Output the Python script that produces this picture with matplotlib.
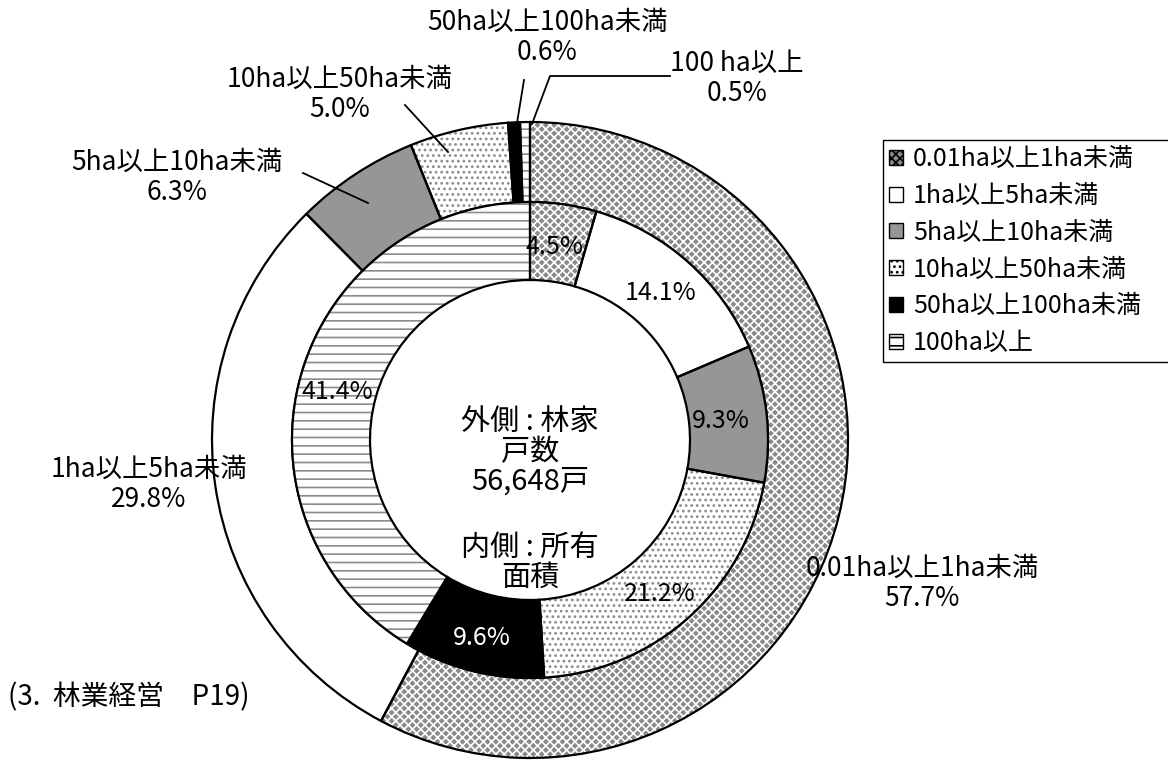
import matplotlib as mpl
mpl.use('Agg')
import matplotlib.pyplot as plt
from matplotlib.patches import Patch

plt.rcParams['font.family'] = ['Noto Sans CJK JP', 'DejaVu Sans']
plt.rcParams['hatch.linewidth'] = 1.2

# data
categories = ['0.01ha以上1ha未満', '1ha以上5ha未満', '5ha以上10ha未満',
              '10ha以上50ha未満', '50ha以上100ha未満', '100ha以上']
outer_share = [57.7, 29.8, 6.3, 5.0, 0.6, 0.5]   # 林家戸数
inner_share = [4.5, 14.1, 9.3, 21.2, 9.6, 41.4]  # 所有面積
total_households = '56,648戸'

# style per category: face, hatch, hatch colour
faces = ['#8a8a8a', 'white', '#969696', 'white', 'black', 'white']
hatches = ['xxxx', '', '', '...', '', '--']
hatch_cols = ['white', 'white', '#969696', '#8c8c8c', 'black', '#8c8c8c']

W, H = 1168, 760
fig = plt.figure(figsize=(W / 100, H / 100), dpi=100)
ax = fig.add_axes([0, 0, 1, 1])

cx, cy = 530, H - 440
R_out, R_mid, R_in = 318, 238, 160


def ring(vals, radius, width):
    wedges, _ = ax.pie(vals, radius=radius, center=(cx, cy), startangle=90,
                       counterclock=False, normalize=True,
                       wedgeprops=dict(width=width, linewidth=0))
    for w, fc, hc, hp in zip(wedges, faces, hatch_cols, hatches):
        w.set_facecolor(fc)
        w.set_edgecolor(hc)
        w.set_hatch(hp)
    ax.pie(vals, radius=radius, center=(cx, cy), startangle=90,
           counterclock=False, normalize=True,
           wedgeprops=dict(width=width, fill=False, edgecolor='black', linewidth=1.6))


ring(outer_share, R_out, R_out - R_mid)
ring(inner_share, R_mid, R_mid - R_in)

ax.set_xlim(0, W)
ax.set_ylim(0, H)
ax.set_aspect('auto')
ax.axis('off')

fs = 19

# inner ring labels
inner_pos = [(555, 247), (661, 293), (721, 421), (660, 594), (482, 638), (337, 392)]
for v, (x, y), fc in zip(inner_share, inner_pos, faces):
    ax.text(x, H - y, f'{v}%', ha='center', va='center', fontsize=fs - 1,
            color='white' if fc == 'black' else 'black')

# outer ring labels
outer_pos = [(922, 583), (149, 484), (177, 177), (340, 94), (547, 37), (737, 78)]
names = list(categories)
names[5] = '100 ha以上'
for name, v, (x, y) in zip(names, outer_share, outer_pos):
    ax.text(x, H - y, f'{name}\n{v}%', ha='center', va='center', fontsize=fs,
            linespacing=1.15)

# leader lines
ax.plot([303, 368], [H - 173, H - 203], color='black', lw=1.3)
ax.plot([405, 448], [H - 105, H - 152], color='black', lw=1.3)
ax.plot([524, 517], [H - 80, H - 123], color='black', lw=1.3)
ax.plot([670, 550, 532], [H - 76, H - 76, H - 124], color='black', lw=1.3)

# centre text
ax.text(cx, H - 452, '外側 : 林家\n戸数\n' + total_households, ha='center', va='center',
        fontsize=21, linespacing=1.0)
ax.text(cx, H - 563, '内側 : 所有\n面積', ha='center', va='center',
        fontsize=21, linespacing=1.0)

ax.text(8, H - 697, '(3.  林業経営　P19)', ha='left', va='center', fontsize=20)

handles = [Patch(facecolor=fc, edgecolor='black', hatch=hp, linewidth=1)
           for fc, hp in zip(faces, hatches)]
leg = ax.legend(handles, categories, loc='upper left', mode='expand',
                bbox_to_anchor=(883 / W, 1 - 365 / H, 300 / W, 225 / H),
                fontsize=fs - 1, handlelength=0.55, handleheight=0.55,
                handletextpad=0.4, labelspacing=0.43, borderpad=0.25,
                borderaxespad=0, fancybox=False, edgecolor='black',
                framealpha=1)
leg.get_frame().set_linewidth(1.0)

fig.savefig('out.png', dpi=100)
